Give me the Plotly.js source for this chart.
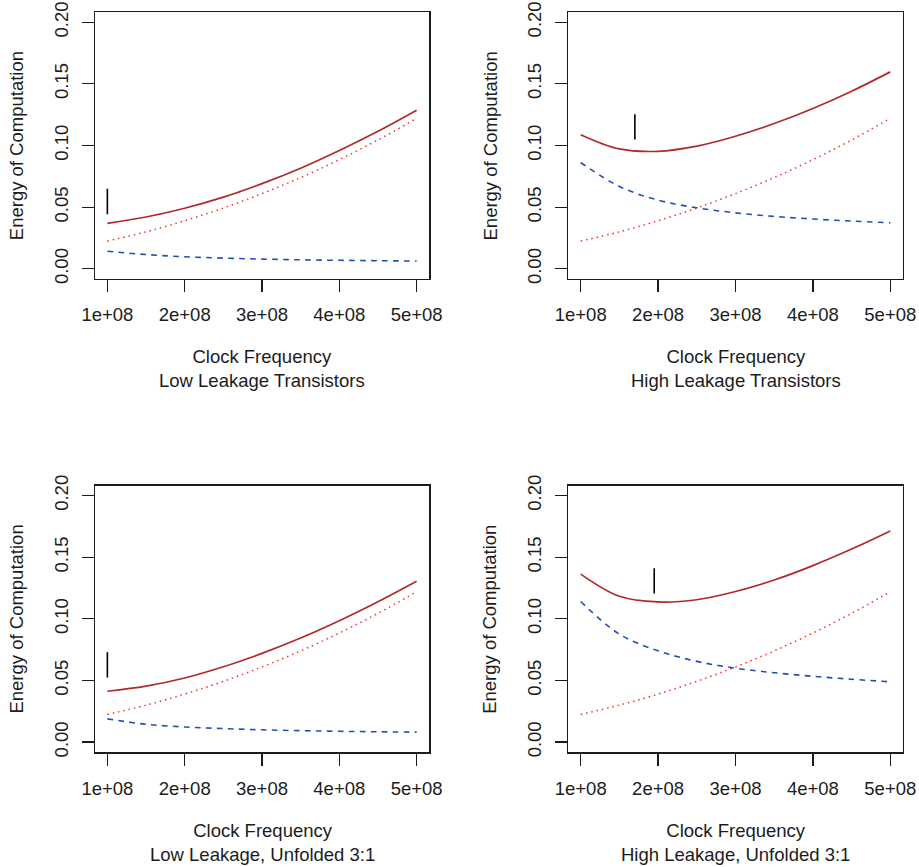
<!DOCTYPE html>
<html>
<head>
<meta charset="utf-8">
<script src="https://cdn.plot.ly/plotly-3.0.1.min.js"></script>
<style>html,body{margin:0;padding:0;background:#fff;}#chart{width:919px;height:867px;}</style>
</head>
<body>
<div id="chart"></div>
<script>
// ---- data ----
var freq = [1.0e8, 1.5e8, 2.0e8, 2.5e8, 3.0e8, 3.5e8, 4.0e8, 4.5e8, 5.0e8];
var freqTicks = [1e8, 2e8, 3e8, 4e8, 5e8];
var freqLabels = ['1e+08', '2e+08', '3e+08', '4e+08', '5e+08'];
var energyTicks = [0, 0.05, 0.10, 0.15, 0.20];
var energyLabels = ['0.00', '0.05', '0.10', '0.15', '0.20'];

// dynamic (switching) energy, dotted, same in every panel
var dynamicEnergy = [0.0225, 0.0300, 0.0390, 0.0493, 0.0610, 0.0740, 0.0885, 0.1045, 0.1220];

// panel 1: Low Leakage Transistors
var leakLow = [0.0143, 0.0116, 0.0098, 0.0087, 0.0079, 0.0073, 0.0069, 0.0066, 0.0063];
var totalLow = [0.0369, 0.0420, 0.0491, 0.0581, 0.0691, 0.0816, 0.0959, 0.1115, 0.1286];
// panel 2: High Leakage Transistors
var leakHigh = [0.0862, 0.0668, 0.0557, 0.0495, 0.0454, 0.0425, 0.0404, 0.0387, 0.0373];
var totalHigh = [0.1088, 0.0972, 0.0953, 0.0995, 0.1075, 0.1178, 0.1300, 0.1440, 0.1597];
// panel 3: Low Leakage, Unfolded 3:1
var leakLowUnf = [0.0189, 0.0145, 0.0123, 0.0110, 0.0100, 0.0093, 0.0088, 0.0084, 0.0081];
var totalLowUnf = [0.0413, 0.0454, 0.0520, 0.0611, 0.0720, 0.0844, 0.0984, 0.1138, 0.1304];
// panel 4: High Leakage, Unfolded 3:1
var leakHighUnf = [0.1141, 0.0876, 0.0741, 0.0655, 0.0600, 0.0563, 0.0534, 0.0510, 0.0489];
var totalHighUnf = [0.1363, 0.1183, 0.1137, 0.1155, 0.1222, 0.1315, 0.1432, 0.1566, 0.1713];

// short vertical markers near the optimum
var markX = [1.0e8, 1.70e8, 1.0e8, 1.95e8];
var markLo = [0.0443, 0.1049, 0.0524, 0.1205];
var markHi = [0.0649, 0.1254, 0.0730, 0.1411];

var subtitles = ['Low Leakage Transistors', 'High Leakage Transistors',
                 'Low Leakage, Unfolded 3:1', 'High Leakage, Unfolded 3:1'];
var xTitle = 'Clock Frequency';
var yTitle = 'Energy of Computation';

var leaks = [leakLow, leakHigh, leakLowUnf, leakHighUnf];
var totals = [totalLow, totalHigh, totalLowUnf, totalHighUnf];

// ---- layout geometry (pixels) ----
var W = 919, H = 867;
var boxes = [
  {l: 95, r: 429, t: 12.3, b: 278.7},
  {l: 568.3, r: 902.7, t: 12.3, b: 278.7},
  {l: 95, r: 429, t: 485.7, b: 752},
  {l: 568.3, r: 902.7, t: 485.7, b: 752}
];
function px(x) { return x / W; }
function py(y) { return 1 - y / H; }

var cSolid = '#B02A2A', cDot = '#F5332B', cDash = '#2150B2', cAxis = '#1c1c1c';
var fontFam = 'Liberation Sans, Arial, Helvetica, sans-serif';
var fs = 18.5;

var traces = [];
var layout = {
  width: W, height: H, margin: {l: 0, r: 0, t: 0, b: 0},
  paper_bgcolor: '#ffffff', plot_bgcolor: '#ffffff', showlegend: false,
  font: {family: fontFam, size: fs, color: cAxis},
  annotations: []
};

for (var i = 0; i < 4; i++) {
  var n = i + 1;
  var xa = 'x' + (n === 1 ? '' : n), ya = 'y' + (n === 1 ? '' : n);
  var bx = boxes[i];
  traces.push({x: freq, y: dynamicEnergy, xaxis: xa, yaxis: ya, mode: 'lines', hoverinfo: 'skip',
    line: {color: cDot, width: 1.5, dash: '1.5px,3.9px', shape: 'spline'}});
  traces.push({x: freq, y: leaks[i], xaxis: xa, yaxis: ya, mode: 'lines', hoverinfo: 'skip',
    line: {color: cDash, width: 1.6, dash: '5.7px,5.3px', shape: 'spline'}});
  traces.push({x: freq, y: totals[i], xaxis: xa, yaxis: ya, mode: 'lines', hoverinfo: 'skip',
    line: {color: cSolid, width: 1.7, shape: 'spline'}});
  traces.push({x: [markX[i], markX[i]], y: [markLo[i], markHi[i]], xaxis: xa, yaxis: ya,
    mode: 'lines', hoverinfo: 'skip', line: {color: '#000000', width: 1.6}});

  layout['xaxis' + (n === 1 ? '' : n)] = {
    domain: [px(bx.l), px(bx.r)], anchor: ya, range: [0.84e8, 5.16e8],
    tickmode: 'array', tickvals: freqTicks, ticktext: freqLabels,
    ticks: 'outside', ticklen: 12, tickwidth: 1.3, tickcolor: cAxis,
    showline: true, mirror: true, linecolor: cAxis, linewidth: 1.5,
    showgrid: false, zeroline: false, fixedrange: true,
    tickfont: {family: fontFam, size: fs, color: cAxis}, ticklabelstandoff: 7
  };
  layout['yaxis' + (n === 1 ? '' : n)] = {
    domain: [py(bx.b), py(bx.t)], anchor: xa, range: [-0.008, 0.208],
    tickmode: 'array', tickvals: energyTicks, ticktext: energyLabels, tickangle: -90,
    ticks: 'outside', ticklen: 12, tickwidth: 1.3, tickcolor: cAxis,
    showline: true, mirror: true, linecolor: cAxis, linewidth: 1.5,
    showgrid: false, zeroline: false, fixedrange: true,
    tickfont: {family: fontFam, size: fs, color: cAxis}, ticklabelstandoff: 6
  };
  layout.annotations.push({
    xref: 'paper', yref: 'paper', x: px(bx.l - 78.3), y: py((bx.t + bx.b) / 2),
    text: yTitle, textangle: -90, showarrow: false, xanchor: 'center', yanchor: 'middle',
    font: {family: fontFam, size: fs, color: cAxis}
  });
  layout.annotations.push({
    xref: 'paper', yref: 'paper', x: px((bx.l + bx.r) / 2), y: py(bx.b + 90),
    text: xTitle + '<br>' + subtitles[i], showarrow: false, xanchor: 'center', yanchor: 'middle',
    font: {family: fontFam, size: fs, color: cAxis}
  });
}

Plotly.newPlot('chart', traces, layout, {displayModeBar: false, staticPlot: true});
</script>
</body>
</html>
